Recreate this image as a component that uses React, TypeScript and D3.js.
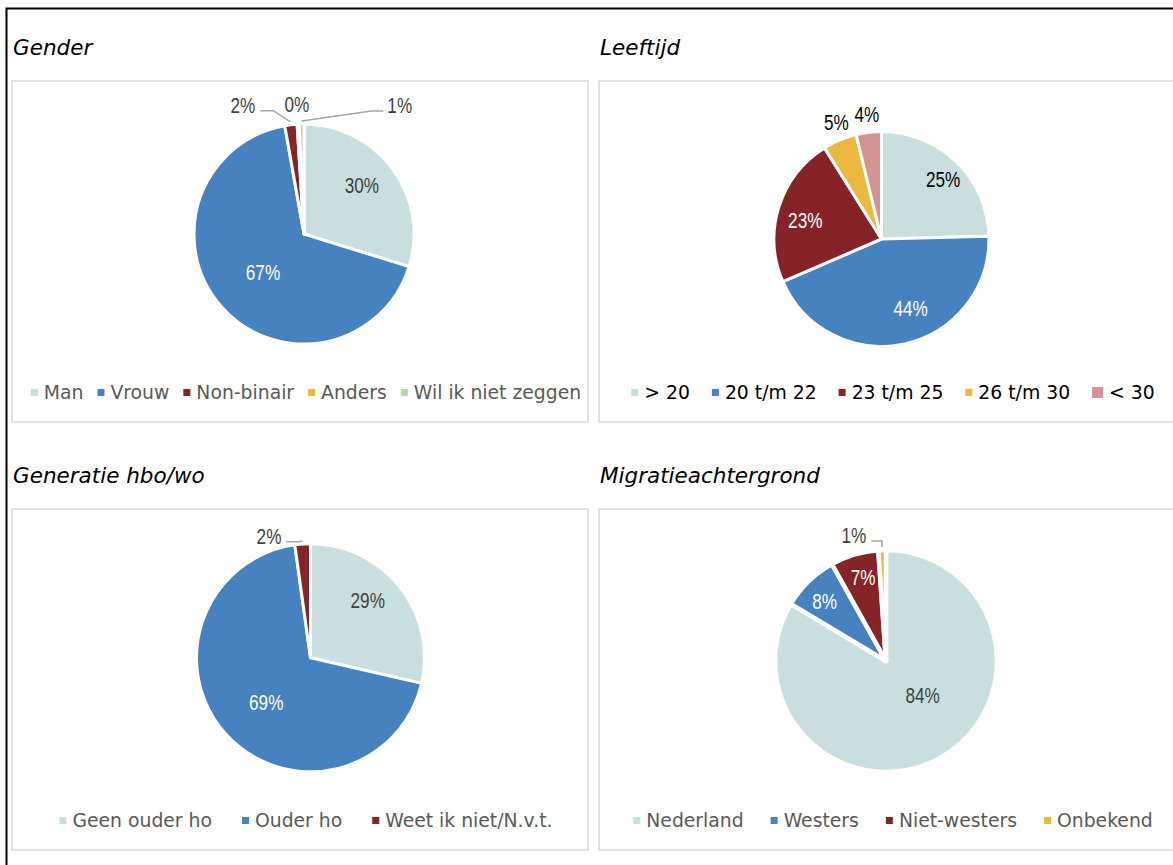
import React, { useRef, useEffect } from 'react';
import * as d3 from 'd3';

// values (labels show them rounded)
const genderNames = ['Man', 'Vrouw', 'Non-binair', 'Anders', 'Wil ik niet zeggen'];
const genderValues = [29.8, 67.4, 1.8, 0.3, 0.7];

const ageNames = ['> 20', '20 t/m 22', '23 t/m 25', '26 t/m 30', '< 30'];
const ageValues = [24.6, 43.9, 22.6, 5.1, 3.8];

const generationNames = ['Geen ouder ho', 'Ouder ho', 'Weet ik niet/N.v.t.'];
const generationValues = [28.6, 69.2, 2.2];

const migrationNames = ['Nederland', 'Westers', 'Niet-westers', 'Onbekend'];
const migrationValues = [83.6, 8.3, 7.0, 1.1];

const palette = ['#c9dfdf', '#4682c0', '#862326', '#ebb840', '#b5d9a5'];
const agePalette = ['#c9dfdf', '#4682c0', '#862326', '#ebb840', '#d49393'];

type Spot = { r: number; da?: number; at?: number; leader?: 'left' | 'right' };

type Chart = {
  title: string;
  names: string[];
  values: number[];
  colors: string[];
  px: number;
  py: number;
  cx: number;
  cy: number;
  r: number;
  stroke: number;
  gap: number;
  ink: string;
  legendInk: string;
  markers?: number[];
  spots: Spot[];
};

const charts: Chart[] = [
  {
    title: 'Gender', names: genderNames, values: genderValues, colors: palette,
    px: 12, py: 81, cx: 292, cy: 153, r: 110, stroke: 3, gap: 14,
    ink: '#404040', legendInk: '#595959',
    spots: [
      { r: 0.69, da: -4 },
      { r: 0.51, da: -1.6 },
      { r: 1.3, at: 334.7, leader: 'right' },
      { r: 1.18, at: 356.9 },
      { r: 1.46, at: 36.6, leader: 'left' },
    ],
  },
  {
    title: 'Leeftijd', names: ageNames, values: ageValues, colors: agePalette,
    px: 599, py: 81, cx: 282.5, cy: 158, r: 107.5, stroke: 3, gap: 22,
    ink: '#000000', legendInk: '#000000', markers: [7, 7, 7, 7, 11],
    spots: [
      { r: 0.8, da: 1.5 },
      { r: 0.7, da: -10.4 },
      { r: 0.73, da: -3.6 },
      { r: 1.17, da: 1.8 },
      { r: 1.17, da: 0.2 },
    ],
  },
  {
    title: 'Generatie hbo/wo', names: generationNames, values: generationValues, colors: palette,
    px: 12, py: 509, cx: 298.5, cy: 148.8, r: 114, stroke: 3, gap: 30,
    ink: '#404040', legendInk: '#595959',
    spots: [
      { r: 0.71, da: -6.5 },
      { r: 0.55, da: -2.6 },
      { r: 1.13, at: 341.2, leader: 'right' },
    ],
  },
  {
    title: 'Migratieachtergrond', names: migrationNames, values: migrationValues, colors: palette,
    px: 599, py: 509, cx: 287, cy: 152, r: 111, stroke: 4.5, gap: 27,
    ink: '#404040', legendInk: '#595959',
    spots: [
      { r: 0.45, da: -17.7 },
      { r: 0.77, da: -1.7 },
      { r: 0.78, da: 1.2 },
      { r: 1.17, at: 345.7, leader: 'right' },
    ],
  },
];

const PANEL_W = 576;
const PANEL_H = 341;
const LABEL_SIZE = 22;
const LABEL_SX = 0.78; // the original label face is a narrow one
const LABEL_FONT = "'Liberation Sans', Arial, sans-serif";

const App: React.FC = () => {
  const svgRef = useRef<SVGSVGElement | null>(null);

  useEffect(() => {
    const svg = d3.select(svgRef.current!);
    svg.selectAll('*').remove();

    svg.append('rect')
      .attr('x', 6.5).attr('y', 8.5)
      .attr('width', 1400).attr('height', 1000)
      .attr('fill', 'none').attr('stroke', '#000').attr('stroke-width', 2);

    charts.forEach((c) => {
      svg.append('text')
        .attr('x', c.px + 1).attr('y', c.py - 26)
        .attr('font-family', 'DejaVu Sans')
        .attr('font-style', 'italic')
        .attr('font-size', 21.5)
        .attr('fill', '#000')
        .text(c.title);

      const g = svg.append('g').attr('transform', `translate(${c.px},${c.py})`);
      g.append('rect')
        .attr('x', 0).attr('y', 0)
        .attr('width', PANEL_W).attr('height', PANEL_H)
        .attr('fill', '#fff').attr('stroke', '#d9d9d9').attr('stroke-width', 1.5);

      const pie = d3.pie<number>().sort(null).value((d) => d);
      const arcs = pie(c.values);
      const arc = d3.arc<d3.PieArcDatum<number>>().innerRadius(0).outerRadius(c.r);

      const pg = g.append('g').attr('transform', `translate(${c.cx},${c.cy})`);
      pg.selectAll('path')
        .data(arcs)
        .enter()
        .append('path')
        .attr('d', arc)
        .attr('fill', (d, i) => c.colors[i])
        .attr('stroke', '#fff')
        .attr('stroke-width', c.stroke)
        .attr('stroke-linejoin', 'round');

      // data labels
      arcs.forEach((d, i) => {
        const s = c.spots[i];
        const mid = (d.startAngle + d.endAngle) / 2;
        const a = s.at !== undefined ? (s.at * Math.PI) / 180 : mid + ((s.da || 0) * Math.PI) / 180;
        const x = c.r * s.r * Math.sin(a);
        const y = -c.r * s.r * Math.cos(a);
        const inside = s.r < 1;
        const fill = inside && d3.lab(c.colors[i]).l < 60 ? '#ffffff' : c.ink;
        const t = pg.append('text')
          .attr('transform', `translate(${x},${y}) scale(${LABEL_SX},1)`)
          .attr('dy', '0.36em')
          .attr('text-anchor', 'middle')
          .attr('font-family', LABEL_FONT)
          .attr('font-size', LABEL_SIZE)
          .attr('fill', fill)
          .text(`${Math.round(c.values[i])}%`);

        if (s.leader) {
          const w = (t.node() as SVGTextElement).getComputedTextLength() * LABEL_SX;
          const ly = y + 0.36 * LABEL_SIZE - 2;
          const sx = s.leader === 'right' ? x + w / 2 + 5 : x - w / 2 - 4;
          const ex = (c.r + 3) * Math.sin(mid);
          const ey = -(c.r + 3) * Math.cos(mid);
          const kx = s.leader === 'right' ? Math.min(sx + 13, ex) : Math.max(sx - 12, ex);
          pg.append('polyline')
            .attr('points', `${sx},${ly} ${kx},${ly} ${ex},${ey}`)
            .attr('fill', 'none')
            .attr('stroke', '#a6a6a6')
            .attr('stroke-width', 1.5);
        }
      });

      // legend
      const lg = g.append('g');
      const base = 318;
      let xCur = 0;
      c.names.forEach((n, i) => {
        const m = c.markers ? c.markers[i] : 7;
        lg.append('rect')
          .attr('x', xCur).attr('y', base - 6.5 - m / 2)
          .attr('width', m).attr('height', m)
          .attr('fill', c.colors[i]);
        const t = lg.append('text')
          .attr('x', xCur + m + 6).attr('y', base)
          .attr('font-family', 'DejaVu Sans')
          .attr('font-size', 18.8)
          .attr('fill', c.legendInk)
          .text(n);
        const w = (t.node() as SVGTextElement).getComputedTextLength();
        xCur += m + 6 + w + (i < c.names.length - 1 ? c.gap : 0);
      });
      lg.attr('transform', `translate(${294 - xCur / 2},0)`);
    });
  }, []);

  return (
    <svg
      ref={svgRef}
      width={1173}
      height={865}
      style={{ position: 'absolute', left: 0, top: 0, background: '#fff' }}
    ></svg>
  );
};

export default App;
